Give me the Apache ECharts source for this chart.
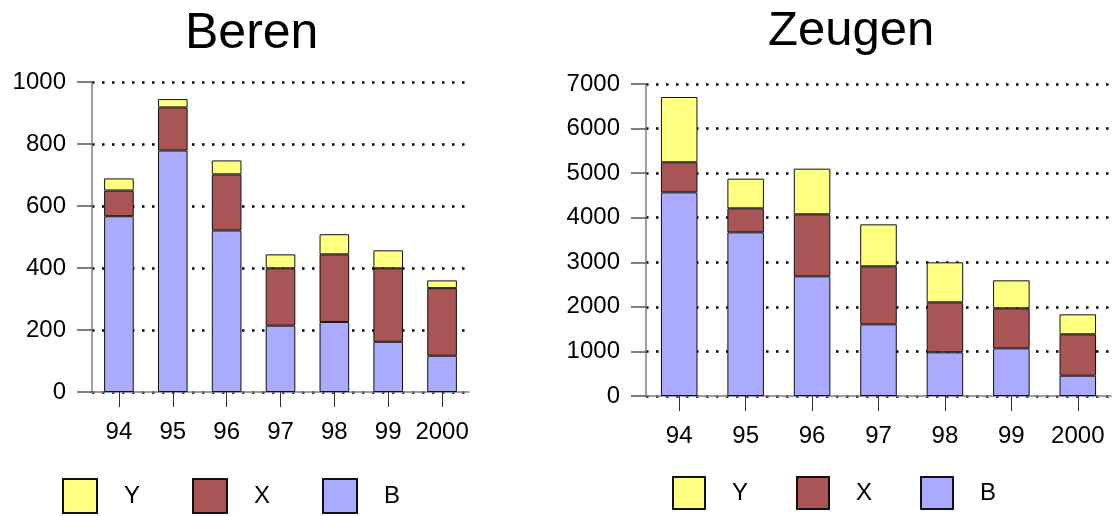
<!DOCTYPE html>
<html>
<head>
<meta charset="utf-8">
<script src="https://cdn.jsdelivr.net/npm/echarts@6/dist/echarts.min.js"></script>
<style>html,body{margin:0;padding:0;background:#fff}#c{width:1114px;height:516px}</style>
</head>
<body>
<div id="c"></div>
<script>
var categories = ['94', '95', '96', '97', '98', '99', '2000'];
var berenB = [567, 779, 521, 214, 226, 162, 117];
var berenX = [83, 139, 181, 185, 218, 237, 218];
var berenY = [39, 27, 45, 45, 65, 58, 25];
var zeugenB = [4569, 3672, 2685, 1608, 980, 1069, 456];
var zeugenX = [674, 538, 1391, 1301, 1121, 898, 928];
var zeugenY = [1465, 666, 1024, 942, 898, 628, 448];
var titles = ['Beren', 'Zeugen'];
var seriesNames = ['Y', 'X', 'B'];

var FONT = "'Liberation Sans', Arial, sans-serif";
var colors = { B: '#AAAAFF', X: '#AA5555', Y: '#FFFF80' };

function xAxis(gi) {
  return {
    type: 'category', gridIndex: gi, data: categories,
    axisLine: { show: true, lineStyle: { color: '#808080', width: 1.5 } },
    axisTick: { show: true, alignWithLabel: true, length: 15, lineStyle: { color: '#333', width: 1 } },
    axisLabel: { color: '#000', fontSize: 24, fontFamily: FONT, margin: 28, interval: 0 },
    splitLine: { show: false }
  };
}
function yAxis(gi, max, interval) {
  return {
    type: 'value', gridIndex: gi, min: 0, max: max, interval: interval,
    axisLine: { show: true, lineStyle: { color: '#808080', width: 1.5 } },
    axisTick: { show: true, inside: false, length: 15, lineStyle: { color: '#555', width: 1.5 } },
    axisLabel: { color: '#000', fontSize: 24, fontFamily: FONT, margin: 26, formatter: function (v) { return String(v); } },
    splitLine: { show: true, lineStyle: { color: '#000', width: 2.5, type: [2.5, 7.5] } }
  };
}
function bar(name, data, gi, stack) {
  return {
    type: 'bar', name: name, data: data, stack: stack,
    xAxisIndex: gi, yAxisIndex: gi, barWidth: '55%',
    itemStyle: { color: colors[name], borderColor: '#111', borderWidth: 1 },
    emphasis: { disabled: true }, animation: false
  };
}

var chart = echarts.init(document.getElementById('c'), null, { renderer: 'canvas' });
chart.setOption({
  animation: false,
  textStyle: { fontFamily: FONT },
  title: [
    { text: titles[0], left: 180, top: 4, textStyle: { fontSize: 50, fontWeight: 'normal', color: '#000', fontFamily: FONT } },
    { text: titles[1], left: 763, top: 2, textStyle: { fontSize: 49, fontWeight: 'normal', color: '#000', fontFamily: FONT } }
  ],
  grid: [
    { left: 92, top: 82, width: 377, height: 310 },
    { left: 646, top: 84, width: 465, height: 312 }
  ],
  xAxis: [xAxis(0), xAxis(1)],
  yAxis: [yAxis(0, 1000, 200), yAxis(1, 7000, 1000)],
  legend: [
    { data: seriesNames, left: 57, top: 473, itemWidth: 34, itemHeight: 34, itemGap: 52, icon: 'rect',
      selectedMode: false, textStyle: { fontSize: 24, color: '#000', fontFamily: FONT, padding: [0, 0, 0, 22] } },
    { data: seriesNames, left: 667, top: 471, itemWidth: 32, itemHeight: 32, itemGap: 48, icon: 'rect',
      selectedMode: false, textStyle: { fontSize: 24, color: '#000', fontFamily: FONT, padding: [0, 0, 0, 22] } }
  ],
  series: [
    bar('B', berenB, 0, 'beren'),
    bar('X', berenX, 0, 'beren'),
    bar('Y', berenY, 0, 'beren'),
    bar('B', zeugenB, 1, 'zeugen'),
    bar('X', zeugenX, 1, 'zeugen'),
    bar('Y', zeugenY, 1, 'zeugen')
  ]
});
</script>
</body>
</html>
